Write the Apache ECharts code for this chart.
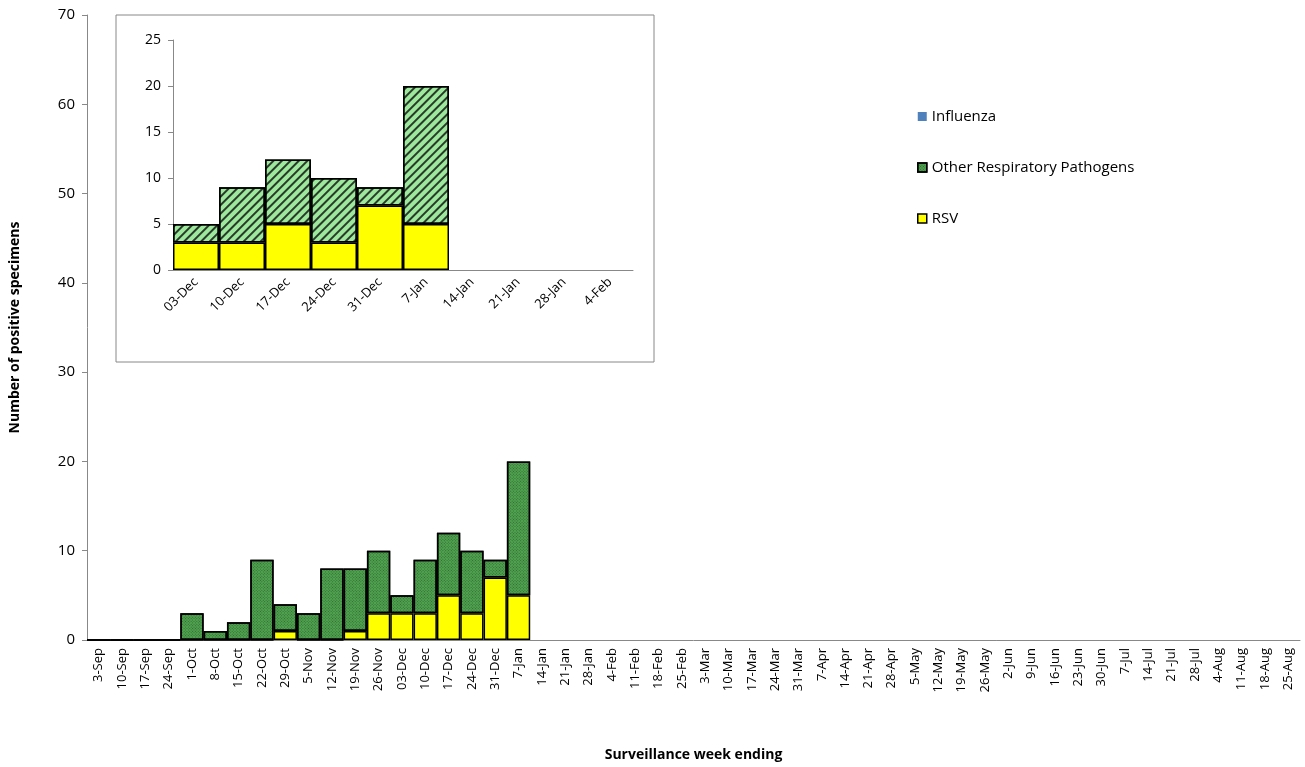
<!DOCTYPE html><html><head><meta charset="utf-8"><script src="https://cdn.jsdelivr.net/npm/echarts@6/dist/echarts.min.js"></script>
<style>body{margin:0}#c{width:1305px;height:767px}</style></head><body><div id="c"></div><script>
const weeks=["3-Sep","10-Sep","17-Sep","24-Sep","1-Oct","8-Oct","15-Oct","22-Oct","29-Oct","5-Nov","12-Nov","19-Nov","26-Nov","03-Dec","10-Dec","17-Dec","24-Dec","31-Dec","7-Jan","14-Jan","21-Jan","28-Jan","4-Feb","11-Feb","18-Feb","25-Feb","3-Mar","10-Mar","17-Mar","24-Mar","31-Mar","7-Apr","14-Apr","21-Apr","28-Apr","5-May","12-May","19-May","26-May","2-Jun","9-Jun","16-Jun","23-Jun","30-Jun","7-Jul","14-Jul","21-Jul","28-Jul","4-Aug","11-Aug","18-Aug","25-Aug"];
const rsv=[0,0,0,0,0,0,0,0,1,0,0,1,3,3,3,5,3,7,5];
const other=[0,0,0,0,3,1,2,9,3,3,8,7,7,2,6,7,7,2,15];
const influenza=[0,0,0,0,0,0,0,0,0,0,0,0,0,0,0,0,0,0,0];
const insetWeeks=["03-Dec","10-Dec","17-Dec","24-Dec","31-Dec","7-Jan","14-Jan","21-Jan","28-Jan","4-Feb"];
const insetRsv=[3,3,5,3,7,5];
const insetOther=[2,6,7,7,2,15];
const F='Open Sans, Liberation Sans, sans-serif';
const bs={borderColor:'#000',borderWidth:1.5};
const mainGreen={color:'#4fa34f',...bs,decal:{symbol:'rect',color:'rgba(0,0,0,0.35)',dashArrayX:[1,1],dashArrayY:[1,1],rotation:0.785}};
const insetGreen={color:'#9ee89e',...bs,decal:{symbol:'rect',color:'rgba(0,0,0,0.75)',dashArrayX:[1,0],dashArrayY:[1.2,4],rotation:-0.785}};
const ax={axisLine:{lineStyle:{color:'#888'}},axisTick:{lineStyle:{color:'#888'}},axisLabel:{color:'#000',fontFamily:F,fontSize:13}};
const ch=echarts.init(document.getElementById('c'));
ch.setOption({animation:false,
grid:[{left:87,right:5,top:15,bottom:123},{left:173,right:672,top:40,bottom:497}],
graphic:[{type:'rect',z:1,shape:{x:116,y:15,width:538,height:347},style:{fill:'#fff',stroke:'#888',lineWidth:1}}],
legend:{orient:'vertical',left:912,top:104,itemGap:36,icon:'rect',itemWidth:9,itemHeight:9,textStyle:{fontFamily:F,fontSize:15,color:'#000'},
 data:[{name:'Influenza',itemStyle:{color:'#4f81bd',borderWidth:0}},{name:'Other Respiratory Pathogens',itemStyle:mainGreen},{name:'RSV',itemStyle:{color:'#ffff00',...bs}}]},
xAxis:[{type:'category',gridIndex:0,data:weeks,name:'Surveillance week ending',nameLocation:'middle',nameGap:108,nameTextStyle:{fontFamily:F,fontWeight:'bold',fontSize:14,color:'#000'},...ax,axisLabel:{...ax.axisLabel,rotate:90,interval:0}},
{type:'category',gridIndex:1,data:insetWeeks,z:5,...ax,axisLabel:{...ax.axisLabel,rotate:45,interval:0,margin:10}}],
yAxis:[{type:'value',gridIndex:0,min:0,max:70,interval:10,name:'Number of positive specimens',nameLocation:'middle',nameGap:65,nameTextStyle:{fontFamily:F,fontWeight:'bold',fontSize:14,color:'#000'},splitLine:{show:false},...ax,axisLabel:{...ax.axisLabel,fontSize:15,margin:12},axisLine:{show:true,lineStyle:{color:'#888'}},axisTick:{show:true,lineStyle:{color:'#888'}}},
{type:'value',gridIndex:1,min:0,max:25,interval:5,z:5,splitLine:{show:false},...ax,axisLabel:{...ax.axisLabel,fontSize:14,margin:12},axisLine:{show:true,lineStyle:{color:'#888'}},axisTick:{show:true,lineStyle:{color:'#888'}}}],
series:[
{name:'RSV',type:'bar',stack:'a',xAxisIndex:0,yAxisIndex:0,data:rsv,barCategoryGap:'0%',itemStyle:{color:'#ffff00',...bs}},
{name:'Other Respiratory Pathogens',type:'bar',stack:'a',xAxisIndex:0,yAxisIndex:0,data:other,itemStyle:mainGreen},
{name:'Influenza',type:'bar',stack:'a',xAxisIndex:0,yAxisIndex:0,data:influenza,itemStyle:{color:'#4f81bd'}},
{name:'RSV',type:'bar',stack:'b',xAxisIndex:1,yAxisIndex:1,z:5,data:insetRsv,barCategoryGap:'0%',itemStyle:{color:'#ffff00',...bs}},
{name:'Other Respiratory Pathogens',type:'bar',stack:'b',xAxisIndex:1,yAxisIndex:1,z:5,data:insetOther,itemStyle:insetGreen}
]});
</script></body></html>
